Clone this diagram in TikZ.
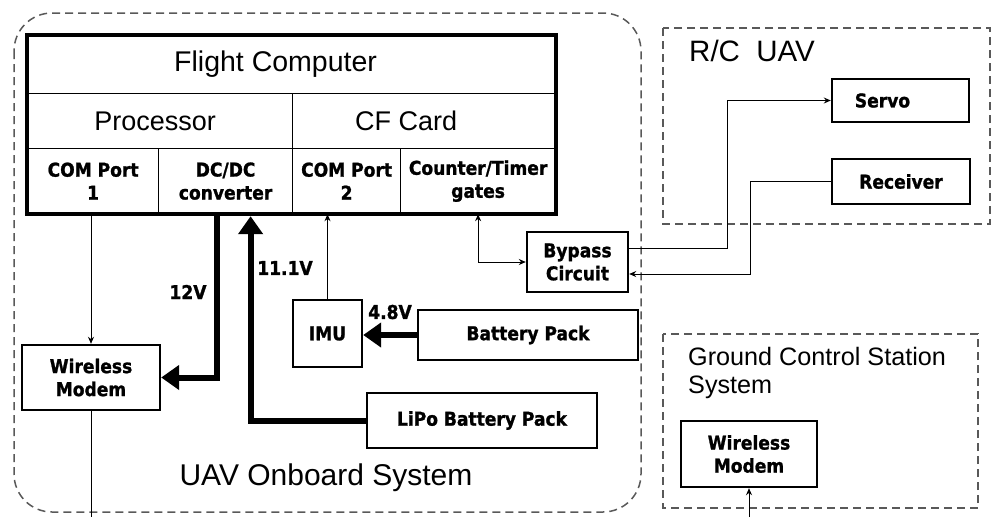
\documentclass[tikz,border=0pt]{standalone}
\usepackage{fontspec}
\setmainfont{Liberation Sans}
\newfontfamily\bcond{DejaVu Sans Condensed}[BoldFeatures={FakeBold=1.2}]
\usetikzlibrary{arrows.meta,calc}
\begin{document}
\begin{tikzpicture}[x=1pt,y=-1pt,
  cell/.style={draw, line width=1.2pt, inner sep=0pt, anchor=north west, align=center},
  sbox/.style={draw, line width=2.4pt, inner sep=0pt, align=center, font=\bcond\bfseries\fontsize{19}{23}\selectfont},
  bold19/.style={font=\bcond\bfseries\fontsize{19}{23}\selectfont},
  title/.style={font=\fontsize{27}{30}\selectfont},
  volt/.style={font=\bcond\bfseries\fontsize{19}{20}\selectfont},
  thin/.style={line width=1pt, -{Stealth[length=7pt,width=6pt]}},
  thick/.style={line width=6pt, line join=miter, -{Triangle[length=18pt,width=24pt]}},
  dbox/.style={draw=black!65, line width=1.5pt, dash pattern=on 8pt off 5pt}]
\useasboundingbox (0,0) rectangle (993,517);
% dashed system boxes
\draw[dbox, rounded corners=38pt] (14,13) rectangle (641,512);
\draw[dbox] (663,28) rectangle (990,224);
\draw[dbox] (663,334) rectangle (978,508);
% flight computer cells
\node[cell, minimum width=528pt, minimum height=58pt, font=\fontsize{28.5}{32}\selectfont] (fc) at (27,35) {Flight Computer\hspace*{32pt}};
\node[cell, minimum width=265pt, minimum height=55pt, title] (proc) at (27,93) {Processor\hspace*{10pt}};
\node[cell, minimum width=263pt, minimum height=55pt, title] (cf) at (292,93) {CF Card\hspace*{36pt}};
\node[cell, minimum width=131pt, minimum height=65pt, bold19] (com1) at (27,148) {COM Port\\1};
\node[cell, minimum width=134pt, minimum height=65pt, bold19] (dcdc) at (158,148) {DC/DC\\converter};
\node[cell, minimum width=108pt, minimum height=65pt, bold19] (com2) at (292,148) {COM Port\\2};
\node[cell, minimum width=155pt, minimum height=65pt, bold19] (ctg) at (400,148) {Counter/Timer\\gates};
\draw[line width=4pt] (fc.north west) rectangle (ctg.south east);
% onboard boxes
\node[sbox, minimum width=138pt, minimum height=65pt] (modem) at (91,377.5) {Wireless\\Modem};
\node[sbox, minimum width=69pt, minimum height=67pt] (imu) at (327.5,333.5) {IMU};
\node[sbox, minimum width=220pt, minimum height=50pt] (batt) at (528,335) {Battery Pack};
\node[sbox, minimum width=230pt, minimum height=55pt] (lipo) at (482,420.5) {LiPo Battery Pack};
\node[sbox, minimum width=101pt, minimum height=60pt] (bypass) at (577.5,262) {Bypass\\Circuit};
% R/C UAV
\node[sbox, minimum width=137pt, minimum height=43pt] (servo) at (900.5,100.5) {Servo\hspace*{36pt}};
\node[sbox, minimum width=138pt, minimum height=45pt] (recv) at (901,181.5) {Receiver};
% GCS
\node[sbox, minimum width=136pt, minimum height=66pt] (gmodem) at (749,454) {Wireless\\Modem};
% titles
\node[font=\fontsize{30}{34}\selectfont] (uavt) at (326,478) {UAV Onboard System};
\node[font=\fontsize{29.5}{32}\selectfont, anchor=west, inner sep=0pt] (rct) at (689,51) {R/C\ \ UAV};
\node[font=\fontsize{25.2}{28}\selectfont, anchor=north west, align=left, inner sep=0pt] (gcst) at (688,347) {Ground Control Station\\System};
% voltage labels
\node[volt] (v12) at (188,292) {12V};
\node[volt] (v11) at (285,268) {11.1V};
\node[volt] (v48) at (390,312) {4.8V};
% coordinates for free ends
\coordinate (mb) at (91,517);
\coordinate (gb) at (749,517);
% connectors
\draw[thin] (com1.south -| modem.north) -- (modem.north);
\draw[line width=1pt] (modem.south) -- (mb);
\draw[thin] (gb) -- (gmodem.south);
\draw[thick] ($(dcdc.south)+(-9,1)$) |- (modem.east);
\draw[thick] (lipo.west) -| ($(dcdc.south)+(25,2)$);
\draw[thin] (imu.north) -- (imu.north |- com2.south);
\draw[thick] (batt.west) -- (batt.west -| imu.east);
\draw[line width=1pt, {Stealth[length=7pt,width=6pt]}-{Stealth[length=7pt,width=6pt]}] (ctg.south) |- (bypass.west);
\draw[thin] ($(bypass.east)+(0,-14)$) -| ($(servo.west)+(-103,0)$) -- (servo.west);
\draw[thin] (recv.west) -- ++(-80,0) |- ($(bypass.east)+(0,12)$);
\end{tikzpicture}
\end{document}
